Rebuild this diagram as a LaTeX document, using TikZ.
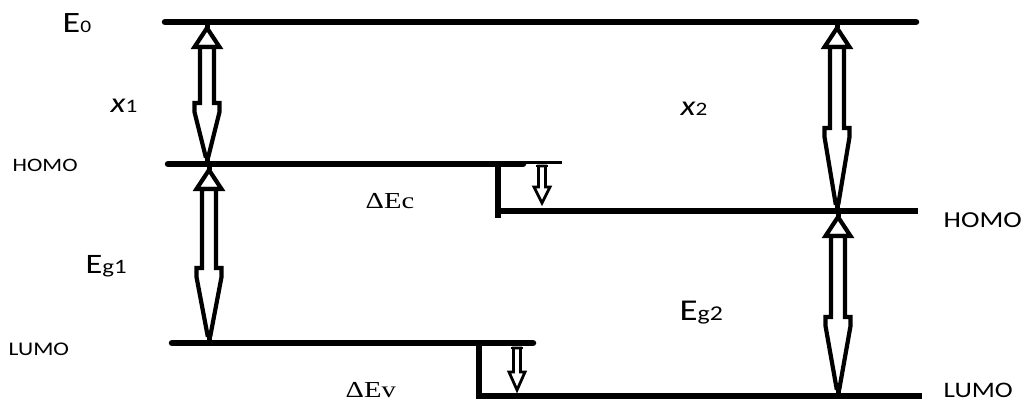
\documentclass[tikz,border=0pt]{standalone}
\usepackage{fontspec}
\newfontfamily\calfont[FakeStretch=1.22]{Carlito}
\newfontfamily\serfont[FakeStretch=1.25]{Liberation Serif}
\newcommand\fs[1]{\fontsize{#1}{#1}\selectfont}
\tikzset{
  level/.style={line width=0.065cm},
  stepline/.style={line width=0.055cm},
  arrline/.style={line width=0.042cm, fill=white, line join=miter},
  sarrline/.style={line width=0.028cm, fill=white, line join=miter},
  lab/.style={inner sep=0pt, anchor=base west, text=black}
}
\newcommand\dblarrow[4]{%
  \filldraw[arrline] (#1,#2+6) -- (#1+12.5,#2+25) -- (#1-12.5,#2+25) -- cycle;
  \filldraw[arrline] (#1-7,#2+25) -- (#1-7,#4) -- (#1-12.5,#4) -- (#1-12.5,#4+9)
     -- (#1-1.5,#3-8) -- (#1+1.5,#3-8) -- (#1+12.5,#4+9) -- (#1+12.5,#4)
     -- (#1+7,#4) -- (#1+7,#2+25) -- cycle;
  \draw[line width=0.05cm] (#1,#3-9) -- (#1,#3);
  \draw[line width=0.05cm] (#1,#2) -- (#1,#2+6);
}
\newcommand\smallarr[4]{%
  \filldraw[sarrline] (#1-3.5,#2) -- (#1-3.5,#3) -- (#1-8,#3) -- (#1,#4)
     -- (#1+8,#3) -- (#1+3.5,#3) -- (#1+3.5,#2) -- cycle;
  \draw[line width=0.012cm] (#1-6,#2) -- (#1+6,#2);
}
\begin{document}
\begin{tikzpicture}[x=0.01cm,y=-0.01cm]
\useasboundingbox (0,0) rectangle (1022,400);
% energy levels
\draw[level, line cap=round] (165,22) -- (916,22);
\draw[level, line cap=round] (168,164) -- (523,164);
\draw[line width=0.035cm] (520,162.5) -- (562,162.5);
\draw[stepline] (498,162) -- (498,218);
\draw[level] (498,211) -- (918,211);
\draw[level, line cap=round] (172,343) -- (533,343);
\draw[stepline] (479,341) -- (479,399);
\draw[level] (479,396) -- (922,396);
% big double arrows
\dblarrow{207}{22}{164}{103}
\dblarrow{209}{164}{343}{268}
\dblarrow{837}{22}{211}{128}
\dblarrow{838}{211}{396}{317}
% small offset arrows
\smallarr{542}{166}{187}{203}
\smallarr{517}{348}{372}{390}
% labels
\node[lab] (e0) at (62,32) {\calfont\fs{8.4}E\fs{5}0};
\node[lab] (x1) at (110,112) {\calfont\fs{8}\itshape x\upshape\fs{5.4}1};
\node[lab] (homoL) at (12,171) {\calfont\fs{5.4}HOMO};
\node[lab] (eg1) at (85,273) {\calfont\fs{8}E\fs{5.8}g1};
\node[lab] (lumoL) at (8,355) {\calfont\fs{5.5}LUMO};
\node[lab] (dec) at (365,208) {\serfont\fs{6.5}ΔEc};
\node[lab] (dev) at (345,397) {\serfont\fs{6.5}ΔEv};
\node[lab] (x2) at (680,115) {\calfont\fs{8}\itshape x\upshape\fs{5.4}2};
\node[lab] (eg2) at (679,320) {\calfont\fs{8.6}E\fs{6}g2};
\node[lab] (homoR) at (943,227) {\calfont\fs{6.5}HOMO};
\node[lab] (lumoR) at (943,397) {\calfont\fs{6.3}LUMO};
\end{tikzpicture}
\end{document}
